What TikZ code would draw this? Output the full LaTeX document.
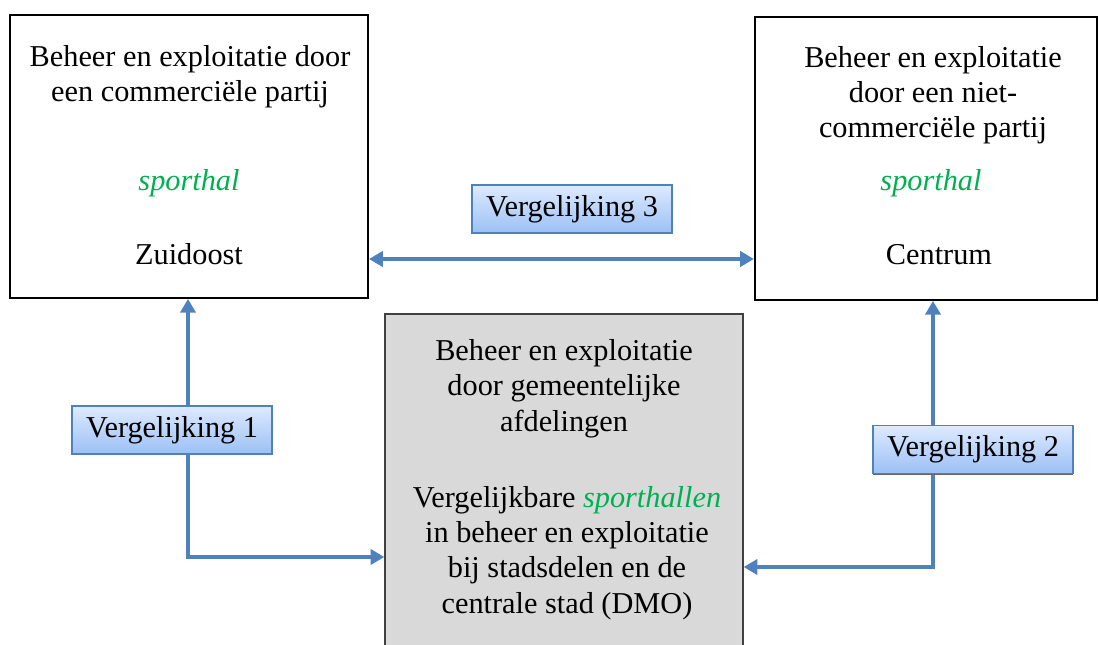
\documentclass[tikz,border=0pt]{standalone}
\usepackage{fontspec}
\setmainfont{Liberation Serif}
\usepackage{xcolor}
\usepackage{tikz}
\usetikzlibrary{arrows.meta, positioning, calc, shadows}
\definecolor{vglblue}{RGB}{79,129,189}
\definecolor{vgltop}{RGB}{222,234,255}
\definecolor{vglbottom}{RGB}{155,192,245}
\definecolor{boxgray}{RGB}{217,217,217}
\definecolor{hallgreen}{RGB}{0,176,80}

\begin{document}
\begin{tikzpicture}[
  x=0.0145cm, y=-0.0145cm,
  font=\fontsize{12.5}{14.44}\selectfont,
  orgbox/.style={draw=black, line width=0.8pt, minimum width=5.19cm,
                 minimum height=4.10cm},
  dmobox/.style={orgbox, fill=boxgray, draw=black!75,
                 minimum width=5.18cm, minimum height=5.3cm},
  txt/.style={align=center, anchor=base},
  hall/.style={font=\fontsize{12.5}{14.44}\selectfont\itshape, text=hallgreen},
  vgl/.style={draw=vglblue, line width=0.5pt,
              top color=vgltop, bottom color=vglbottom,
              minimum width=2.9cm, minimum height=0.696cm, inner sep=0pt,
              drop shadow={shadow xshift=0pt, shadow yshift=-0.6pt,
                           fill=black!60, opacity=1}},
  arrow/.style={{Triangle[length=0.2cm,width=0.22cm]}-{Triangle[length=0.2cm,width=0.22cm]},
                line width=2pt, vglblue},
]
\useasboundingbox (0,0) rectangle (1099,645);
\clip (0,0) rectangle (1099,645);

%% Organisation boxes
\node[orgbox] (commercieel) at (189,156.5) {};
\node[orgbox, minimum width=4.96cm] (nietcommercieel) at (926,158.5) {};
\node[dmobox] (gemeente) at (564,497) {};

%% Box texts (base = last line)
\node[txt] (commtitel) at (190,102) {Beheer en exploitatie door\\een commerciële partij};
\node[txt, hall] (commhal) at (189,191) {sporthal};
\node[txt] (zuidoost) at (189,265) {Zuidoost};

\node[txt] (nctitel) at (933,138) {Beheer en exploitatie\\door een niet-\\commerciële partij};
\node[txt, hall] (nchal) at (931,191) {sporthal};
\node[txt] (centrum) at (939,265) {Centrum};

\node[txt] (gemtitel) at (564,431) {Beheer en exploitatie\\door gemeentelijke\\afdelingen};
\node[txt] (gemtekst) at (567,613) {Vergelijkbare {\color{hallgreen}\itshape sporthallen}\\in beheer en exploitatie\\bij stadsdelen en de\\centrale stad (DMO)};

%% Comparison arrows
\coordinate (hoek1) at (188,557);
\coordinate (hoek2) at (933,567);
\coordinate (vgl3l) at ($(commercieel.east)+(0,102.5)$);
\draw[arrow] (commercieel.south -| hoek1) -- (hoek1) -- (hoek1 -| gemeente.west);
\draw[arrow] (nietcommercieel.south -| hoek2) -- (hoek2) -- (hoek2 -| gemeente.east);
\draw[arrow] (vgl3l) -- (vgl3l -| nietcommercieel.west);

%% Comparison labels
\node[vgl] (vgl1) at (172,430) {Vergelijking 1};
\node[vgl] (vgl2) at (973,449.5) {Vergelijking 2};
\node[vgl] (vgl3) at (572,209) {Vergelijking 3};

\end{tikzpicture}
\end{document}
